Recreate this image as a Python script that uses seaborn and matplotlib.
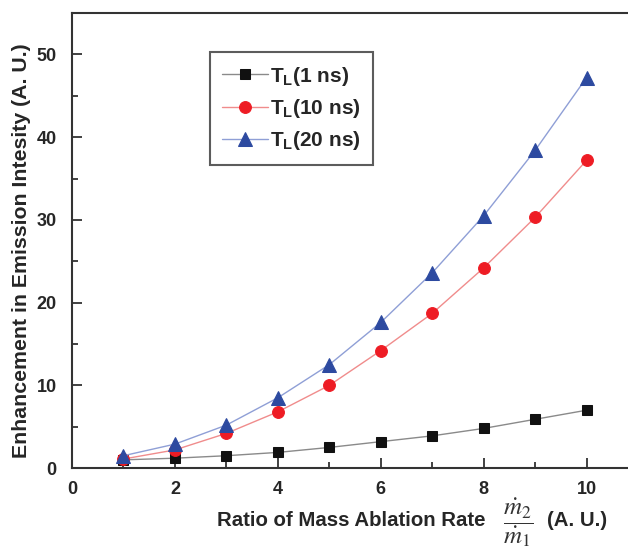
import numpy as np
import pandas as pd
import seaborn as sns
import matplotlib
matplotlib.use("Agg")
import matplotlib.pyplot as plt
from matplotlib.ticker import MultipleLocator

ratio = [1, 2, 3, 4, 5, 6, 7, 8, 9, 10]
tl_1ns = [1.0, 1.2, 1.5, 1.9, 2.5, 3.2, 3.9, 4.8, 5.9, 7.0]
tl_10ns = [1.1, 2.2, 4.2, 6.8, 10.0, 14.2, 18.7, 24.2, 30.3, 37.2]
tl_20ns = [1.5, 2.9, 5.2, 8.5, 12.5, 17.6, 23.6, 30.5, 38.4, 47.2]
labels = ["T$_\\mathbf{L}$(1 ns)", "T$_\\mathbf{L}$(10 ns)", "T$_\\mathbf{L}$(20 ns)"]

sns.set_style("ticks")
plt.rcParams["font.family"] = ["Liberation Sans", "DejaVu Sans"]
plt.rcParams["mathtext.fontset"] = "custom"
plt.rcParams["mathtext.rm"] = "Liberation Sans"
plt.rcParams["mathtext.bf"] = "Liberation Sans:bold"
plt.rcParams["mathtext.it"] = "Liberation Sans:italic"

fig = plt.figure(figsize=(6.28, 5.54), dpi=100)
ax = fig.add_axes([0.1146, 0.155, 0.885, 0.8215])

series = [
    (tl_1ns, "s", "#8a8a8a", "#111111", 7.5),
    (tl_10ns, "o", "#f08c8c", "#ee1c24", 8.5),
    (tl_20ns, "^", "#8f9fd6", "#2d4aa0", 9.5),
]
for (vals, mk, lc, mc, ms), lab in zip(series, labels):
    df = pd.DataFrame({"ratio": ratio, "val": vals})
    sns.lineplot(data=df, x="ratio", y="val", ax=ax, color=lc, marker=mk,
                 markersize=ms, markerfacecolor=mc, markeredgecolor=mc,
                 linewidth=1.0, label=lab)

ax.set_xlim(0, 10.8)
ax.set_ylim(0, 55)
ax.xaxis.set_major_locator(MultipleLocator(2))
ax.xaxis.set_minor_locator(MultipleLocator(1))
ax.yaxis.set_major_locator(MultipleLocator(10))
ax.yaxis.set_minor_locator(MultipleLocator(5))
ax.tick_params(which="both", direction="in", width=1.3, labelsize=13, color="#333333")
ax.tick_params(which="major", length=7)
ax.tick_params(which="minor", length=4)
ax.tick_params(axis="x", pad=9)
ax.tick_params(axis="y", pad=11)
ax.set_xticks(ax.get_xticks())
ax.set_xticklabels([f"{int(v)}" for v in ax.get_xticks()], fontweight="bold")
ax.set_yticks(ax.get_yticks())
ax.set_yticklabels([f"{int(v)}" for v in ax.get_yticks()], fontweight="bold")
ax.set_xlim(0, 10.8)
ax.set_ylim(0, 55)

for s in ["left", "bottom", "top"]:
    ax.spines[s].set_linewidth(1.5)
    ax.spines[s].set_color("#333333")
ax.spines["right"].set_visible(False)

ax.set_ylabel("Enhancement in Emission Intesity (A. U.)", fontsize=15.3, fontweight="bold")
ax.yaxis.set_label_coords(-0.074, 0.477)

# x-axis label: text, fraction, units
ax.set_xlabel("")
fig.text(217 / 628, 0.0505, "Ratio of Mass Ablation Rate", fontsize=14.7,
         fontweight="bold", ha="left", va="baseline")
fr = fig.text(518 / 628, 1 - 523 / 554, r"$\dfrac{\dot{m}_2}{\dot{m}_1}$", fontsize=18,
              fontweight="normal", ha="center", va="center", color="#333333")
fr.set_math_fontfamily("stix")
fig.text(547 / 628, 0.0505, "(A. U.)", fontsize=14.7, fontweight="bold",
         ha="left", va="baseline")

leg = ax.legend(loc="upper left", bbox_to_anchor=(0.248, 0.914), borderaxespad=0,
                prop={"size": 15, "weight": "bold"}, frameon=True, fancybox=False,
                edgecolor="#333333",
                handlelength=2.2, borderpad=0.6, labelspacing=0.45, handletextpad=0.1)
leg.get_frame().set_linewidth(1.5)

fig.savefig("out.png", dpi=100)
